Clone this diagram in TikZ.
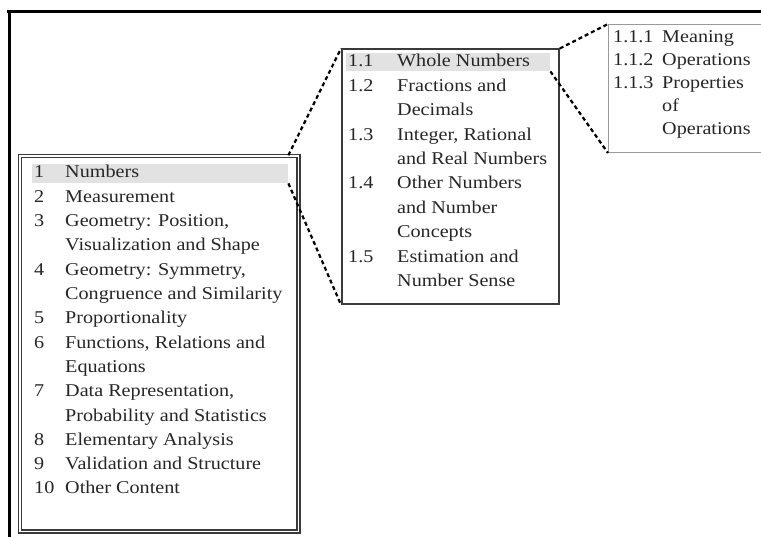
\documentclass[tikz,border=0pt]{standalone}
\usepackage{fontspec}
\setmainfont{Liberation Serif}[FakeStretch=1.12]
\definecolor{textgray}{HTML}{262626}
\definecolor{boxgray}{HTML}{3A3A3A}
\definecolor{hlgray}{HTML}{E2E2E2}
\definecolor{thingray}{HTML}{9A9A9A}
\begin{document}
\begin{tikzpicture}[x=1pt,y=-1pt,
  txt/.style={anchor=base west, inner sep=0pt, text=textgray, font=\fontsize{18}{24}\selectfont},
  hl/.style={fill=hlgray, draw=none, anchor=north west, inner sep=0pt},
  conn/.style={draw=black, line width=2.2pt, dash pattern=on 4pt off 3pt},
  boxnode/.style={anchor=north west, inner sep=0pt}]
\useasboundingbox (0,0) rectangle (761,537);
% page frame
\draw[line width=3pt, black] (7,12) -- (761,12);
\draw[line width=3pt, black] (9,10.5) -- (9,537);
% highlights
\node[hl, minimum width=256pt, minimum height=19pt] (hl1) at (32,164) {};
\node[hl, minimum width=204pt, minimum height=18pt] (hl2) at (346,53) {};
% boxes
\node[boxnode, draw=boxgray, line width=1.4pt, double=white, double distance=1.6pt,
      minimum width=278.5pt, minimum height=375.5pt] (L) at (19.25,155.25) {};
\node[boxnode, draw=boxgray, line width=1.8pt, minimum width=217pt, minimum height=254.5pt] (M) at (341,48.5) {};
\node[boxnode, draw=thingray, line width=1pt, minimum width=170pt, minimum height=128pt] (R) at (608,24) {};
% left box text
\node[txt] (n1) at (34,178) {1};  \node[txt] (t1) at (65,178) {Numbers};
\node[txt] (n2) at (34,202.3) {2};  \node[txt] (t2) at (65,202.3) {Measurement};
\node[txt] (n3) at (34,226.6) {3};  \node[txt] (t3) at (65,226.6) {Geometry: Position,};
\node[txt] (t3b) at (65,250.9) {Visualization and Shape};
\node[txt] (n4) at (34,275.2) {4};  \node[txt] (t4) at (65,275.2) {Geometry: Symmetry,};
\node[txt] (t4b) at (65,299.5) {Congruence and Similarity};
\node[txt] (n5) at (34,323.8) {5};  \node[txt] (t5) at (65,323.8) {Proportionality};
\node[txt] (n6) at (34,348.1) {6};  \node[txt] (t6) at (65,348.1) {Functions, Relations and};
\node[txt] (t6b) at (65,372.4) {Equations};
\node[txt] (n7) at (34,396.7) {7};  \node[txt] (t7) at (65,396.7) {Data Representation,};
\node[txt] (t7b) at (65,421) {Probability and Statistics};
\node[txt] (n8) at (34,445.3) {8};  \node[txt] (t8) at (65,445.3) {Elementary Analysis};
\node[txt] (n9) at (34,469.6) {9};  \node[txt] (t9) at (65,469.6) {Validation and Structure};
\node[txt] (n10) at (34,493.9) {10}; \node[txt] (t10) at (65,493.9) {Other Content};
% middle box text
\node[txt] (m1) at (348,67) {1.1};  \node[txt] (u1) at (397,67) {Whole Numbers};
\node[txt] (m2) at (348,91.4) {1.2};  \node[txt] (u2) at (397,91.4) {Fractions and};
\node[txt] (u2b) at (397,115.8) {Decimals};
\node[txt] (m3) at (348,140.2) {1.3};  \node[txt] (u3) at (397,140.2) {Integer, Rational};
\node[txt] (u3b) at (397,164.6) {and Real Numbers};
\node[txt] (m4) at (348,189) {1.4};  \node[txt] (u4) at (397,189) {Other Numbers};
\node[txt] (u4b) at (397,213.4) {and Number};
\node[txt] (u4c) at (397,237.8) {Concepts};
\node[txt] (m5) at (348,262.2) {1.5};  \node[txt] (u5) at (397,262.2) {Estimation and};
\node[txt] (u5b) at (397,286.6) {Number Sense};
% right box text
\node[txt] (r1) at (613,43) {1.1.1}; \node[txt] (s1) at (662,43) {Meaning};
\node[txt] (r2) at (613,66) {1.1.2}; \node[txt] (s2) at (662,66) {Operations};
\node[txt] (r3) at (613,89) {1.1.3}; \node[txt] (s3) at (662,89) {Properties};
\node[txt] (s3b) at (662,112) {of};
\node[txt] (s3c) at (662,135) {Operations};
% connectors
\draw[conn] (hl1.east |- L.north) -- (M.north west);
\draw[conn] (hl1.south east) -- (M.south west);
\draw[conn] (M.north east) -- (R.north west);
\draw[conn] (hl2.south east) -- (R.south west);
\end{tikzpicture}
\end{document}
